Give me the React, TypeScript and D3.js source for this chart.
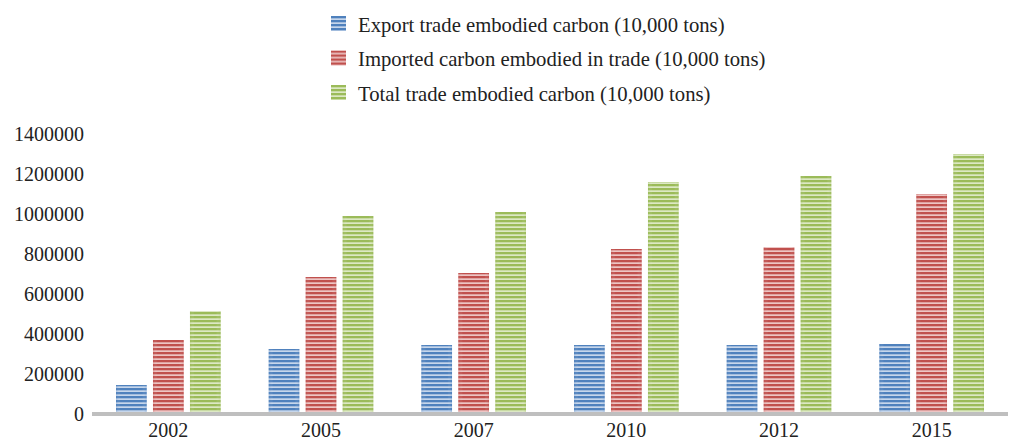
import React from "react";
import * as d3 from "d3";

const years = ["2002", "2005", "2007", "2010", "2012", "2015"];
const exportCarbon = [145000, 325000, 345000, 345000, 345000, 350000];
const importCarbon = [370000, 685000, 705000, 825000, 835000, 1100000];
const totalCarbon = [515000, 990000, 1010000, 1160000, 1190000, 1300000];
const seriesNames = [
  "Export trade embodied carbon (10,000 tons)",
  "Imported carbon embodied in trade (10,000 tons)",
  "Total trade embodied carbon (10,000 tons)",
];
const yTicks = [0, 200000, 400000, 600000, 800000, 1000000, 1200000, 1400000];

const W = 1011;
const H = 442;
const FONT = "'Liberation Serif', 'Times New Roman', serif";

const colors = [
  { dark: "#4F81BD", light: "#C6D6EB" },
  { dark: "#C0504D", light: "#EDC5C4" },
  { dark: "#9BBB59", light: "#DCE8C4" },
];

export default function App() {
  const x0 = d3.scaleBand<string>().domain(years).range([92, 1008]).paddingInner(0).paddingOuter(0);
  const x1 = d3.scaleBand<number>().domain([0, 1, 2]).range([24, x0.bandwidth() - 24]).paddingInner(0.17);
  const y = d3.scaleLinear().domain([0, 1400000]).range([414, 134]);
  const data = [exportCarbon, importCarbon, totalCarbon];

  return (
    <svg width={W} height={H} style={{ position: "absolute", left: 0, top: 0, background: "#fff" }}>
      <defs>
        {colors.map((c, i) => (
          <pattern key={i} id={`stripe${i}`} width={4} height={4} patternUnits="userSpaceOnUse">
            <rect width={4} height={4} fill={c.light} />
            <rect width={4} height={2} fill={c.dark} />
            <rect y={2} width={4} height={0.6} fill={c.dark} opacity={0.5} />
          </pattern>
        ))}
        {colors.map((c, i) => (
          <linearGradient key={i} id={`edge${i}`} x1="0" x2="1" y1="0" y2="0">
            <stop offset="0" stopColor={c.dark} stopOpacity={0.25} />
            <stop offset="0.15" stopColor="#fff" stopOpacity={0} />
            <stop offset="0.85" stopColor="#fff" stopOpacity={0} />
            <stop offset="1" stopColor={c.dark} stopOpacity={0.25} />
          </linearGradient>
        ))}
      </defs>

      {/* legend */}
      {seriesNames.map((name, i) => (
        <g key={name} transform={`translate(331, ${16 + i * 34.5})`}>
          <rect width={15} height={15} fill={`url(#stripe${i})`} />
          <text x={27} y={15.5} fontFamily={FONT} fontSize={20.7} fill="#222">
            {name}
          </text>
        </g>
      ))}

      {/* y axis labels */}
      {yTicks.map((t) => (
        <text key={t} x={84} y={y(t) + 7} textAnchor="end" fontFamily={FONT} fontSize={20} fill="#222">
          {t}
        </text>
      ))}

      {/* bars */}
      {years.map((yr, gi) => (
        <g key={yr} transform={`translate(${x0(yr)}, 0)`}>
          {data.map((series, si) => {
            const bx = x1(si)!;
            const top = y(series[gi]);
            const h = y(0) - top;
            return (
              <g key={si}>
                <rect x={bx} y={top} width={x1.bandwidth()} height={h} fill={`url(#stripe${si})`} />
                <rect x={bx} y={top} width={x1.bandwidth()} height={h} fill={`url(#edge${si})`} />
              </g>
            );
          })}
        </g>
      ))}

      {/* x axis line */}
      <line x1={92} x2={1008} y1={y(0)} y2={y(0)} stroke="#BFBFBF" strokeWidth={4} />

      {/* x labels */}
      {years.map((yr) => (
        <text
          key={yr}
          x={x0(yr)! + x0.bandwidth() / 2}
          y={437}
          textAnchor="middle"
          fontFamily={FONT}
          fontSize={20}
          fill="#222"
        >
          {yr}
        </text>
      ))}
    </svg>
  );
}
